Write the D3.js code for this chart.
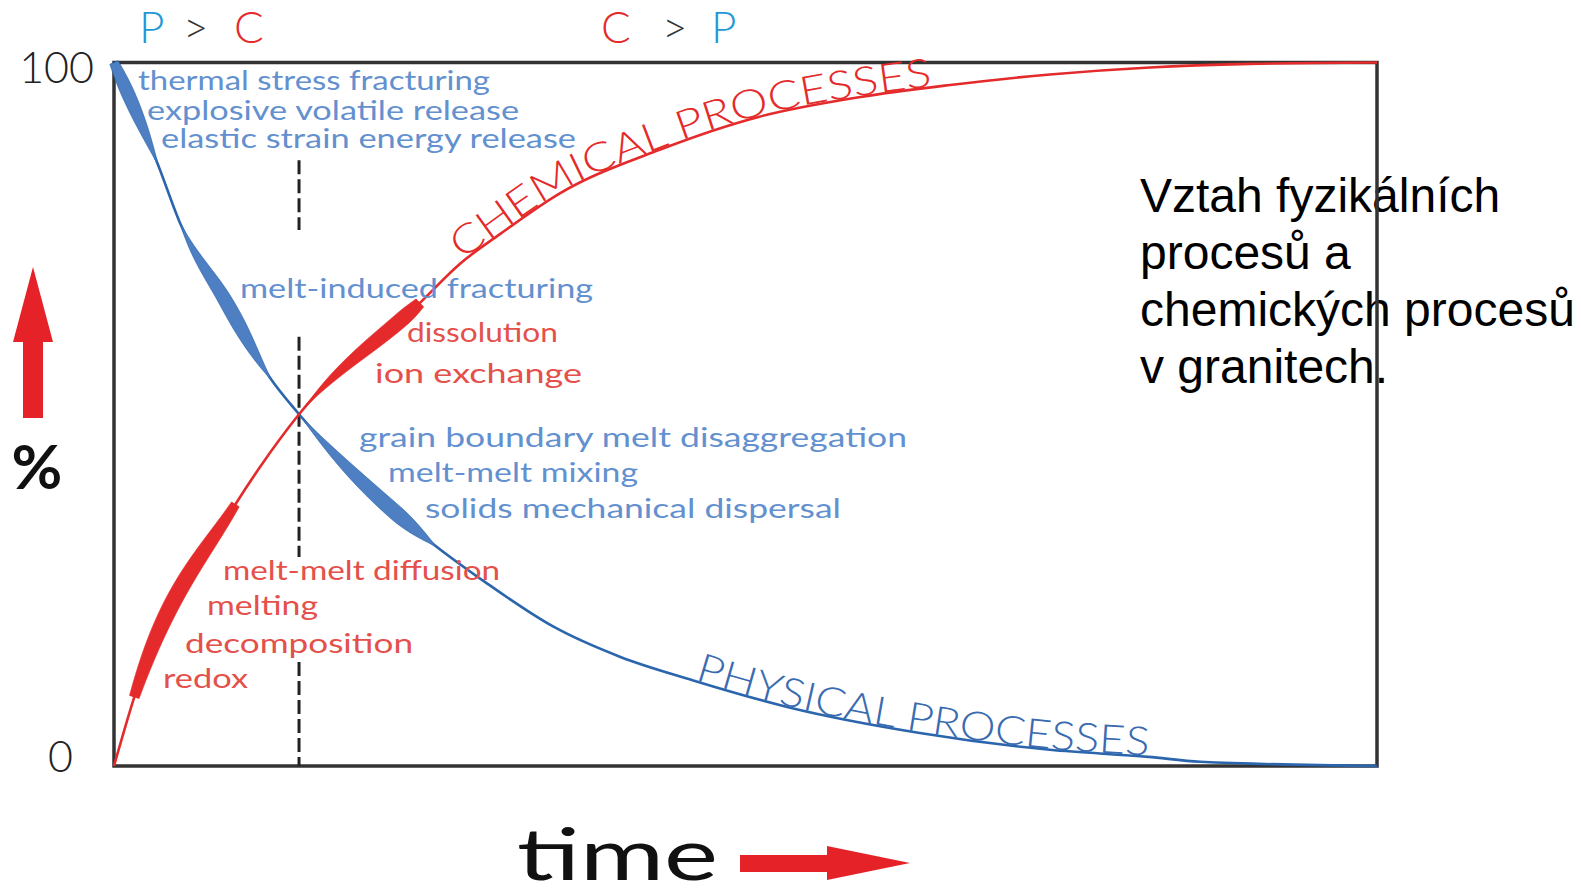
<!DOCTYPE html>
<html>
<head>
<meta charset="utf-8">
<script src="https://cdn.jsdelivr.net/npm/d3@7"></script>
<style>
  body { margin: 0; background: #fff; }
  svg { display: block; }
</style>
</head>
<body>
<script>
// share of physical vs chemical processes in granites over time
var physTime  = [0, 3.5, 5.2, 8.8, 12.35, 14.65, 24.2, 29.5, 34.8, 40.1, 45.8, 53.3, 63.8, 74.1, 81.9, 86.0, 100];
var physShare = [100, 85.4, 77.3, 66.2, 55.2, 50.0, 33.1, 26.0, 19.8, 15.5, 12.2, 8.4, 4.7, 2.3, 1.3, 0.6, 0];

var chemTime  = [0, 1.66, 9.58, 11.56, 14.65, 24.2, 27.4, 30.56, 35.3, 43.2, 51.1, 59.1, 66.2, 74.1, 82.0, 89.9, 100];
var chemShare = [0, 10.1, 37.1, 42.5, 50.0, 65.8, 71.4, 75.6, 81.4, 87.6, 92.3, 95.1, 96.8, 98.3, 99.3, 99.8, 100];

// time ranges of the thick process bands on each curve
var physBands = [[0, 3.5], [5.2, 12.5], [14.8, 25.5]];
var chemBands = [[1.6, 9.6], [15.0, 24.2]];

// process labels
var physLabels = ["thermal stress fracturing", "explosive volatile release", "elastic strain energy release",
                  "melt-induced fracturing", "grain boundary melt disaggregation", "melt-melt mixing",
                  "solids mechanical dispersal"];
var chemLabels = ["dissolution", "ion exchange", "melt-melt diffusion", "melting", "decomposition", "redox"];

var crossTime = 14.65;
var tickValues = [0, 100];
var noteLines = ["Vztah fyzikálních", "procesů a", "chemických procesů", "v granitech."];

var W = 1581, H = 895;
var blue = "#2b65ad", blueFill = "#4d7fc2", blueText = "#6390cf";
var red = "#e42a2a", redText = "#e4504a", cyan = "#1f98d6";
var gothic = "Lato, 'Noto Sans', sans-serif";

var svg = d3.select("body").append("svg").attr("width", W).attr("height", H);

var x = d3.scaleLinear().domain([0, 100]).range([114, 1377]);
var y = d3.scaleLinear().domain([0, 100]).range([766, 62.5]);

// note text on the right (frame is drawn over it)
svg.append("g").selectAll("text").data(noteLines).enter().append("text")
  .attr("x", 1140).attr("y", function(d, i) { return 212 + i * 57; })
  .attr("font-family", "'Liberation Sans', Arial, sans-serif")
  .attr("font-size", 48).attr("fill", "#000")
  .text(function(d) { return d; });

// frame
svg.append("rect")
  .attr("x", x(0)).attr("y", y(100))
  .attr("width", x(100) - x(0)).attr("height", y(0) - y(100))
  .attr("fill", "none").attr("stroke", "#333").attr("stroke-width", 3.5);

// tick labels 100 / 0
svg.append("g").selectAll("text").data(tickValues).enter().append("text")
  .attr("x", function(d) { return d === 100 ? 94 : 73; })
  .attr("y", function(d) { return d === 100 ? y(d) + 20 : y(d) + 6; })
  .attr("text-anchor", "end")
  .attr("font-family", gothic).attr("font-weight", 300)
  .attr("font-size", 43).attr("fill", "#222")
  .text(function(d) { return d; });

// dashed line at the crossing point
var dashParts = [[76.2, 86.1], [29.7, 61.0], [0, 14.8]];
svg.append("g").selectAll("line").data(dashParts).enter().append("line")
  .attr("x1", x(crossTime)).attr("x2", x(crossTime))
  .attr("y1", function(d) { return y(d[1]); })
  .attr("y2", function(d) { return y(d[0]); })
  .attr("stroke", "#222").attr("stroke-width", 3)
  .attr("stroke-dasharray", "14,5");

var line = d3.line()
  .x(function(d) { return x(d[0]); })
  .y(function(d) { return y(d[1]); })
  .curve(d3.curveMonotoneX);

var physPath = svg.append("path").attr("id", "physCurve")
  .attr("d", line(d3.zip(physTime, physShare)))
  .attr("fill", "none").attr("stroke", blue).attr("stroke-width", 2.6);
var chemPath = svg.append("path").attr("id", "chemCurve")
  .attr("d", line(d3.zip(chemTime, chemShare)))
  .attr("fill", "none").attr("stroke", red).attr("stroke-width", 2.6);

function sample(path) {
  var node = path.node(), L = node.getTotalLength(), pts = [];
  for (var l = 0; l <= L; l += 0.5) {
    var p = node.getPointAtLength(l);
    pts.push({ l: l, x: p.x, y: p.y });
  }
  return pts;
}
var bis = d3.bisector(function(d) { return d.x; }).left;
function atX(pts, px) { return Math.min(bis(pts, px), pts.length - 1); }

var physPts = sample(physPath), chemPts = sample(chemPath);

// lens shaped bands along the curve
function bandShape(pts, t0, t1, sh) {
  var i0 = atX(pts, x(t0)), i1 = atX(pts, x(t1)), a = [], b = [];
  for (var i = i0; i <= i1; i++) {
    var s = (i - i0) / Math.max(1, i1 - i0);
    var w = s < sh.p
      ? sh.w0 + (sh.wm - sh.w0) * Math.sin(Math.PI / 2 * s / sh.p)
      : sh.w1 + (sh.wm - sh.w1) * Math.cos(Math.PI / 2 * (s - sh.p) / (1 - sh.p));
    var p0 = pts[Math.max(0, i - 3)], p1 = pts[Math.min(pts.length - 1, i + 3)];
    var dx = p1.x - p0.x, dy = p1.y - p0.y, n = Math.hypot(dx, dy) || 1;
    var nx = -dy / n, ny = dx / n;
    a.push([pts[i].x + nx * w / 2, pts[i].y + ny * w / 2]);
    b.push([pts[i].x - nx * w / 2, pts[i].y - ny * w / 2]);
  }
  return a.concat(b.reverse());
}
var physBandShape = [{ w0: 9, wm: 13, w1: 0, p: 0.3 }, { w0: 0, wm: 14, w1: 0, p: 0.58 }, { w0: 0, wm: 15, w1: 0, p: 0.72 }];
var chemBandShape = [{ w0: 10, wm: 16, w1: 9, p: 0.5 }, { w0: 0, wm: 15, w1: 11, p: 0.85 }];
var poly = d3.line();

svg.append("g").selectAll("path").data(physBands).enter().append("path")
  .attr("d", function(d, i) { return poly(bandShape(physPts, d[0], d[1], physBandShape[i])) + "Z"; })
  .attr("fill", blueFill).attr("stroke", blue).attr("stroke-width", 0.8);
svg.append("g").selectAll("path").data(chemBands).enter().append("path")
  .attr("d", function(d, i) { return poly(bandShape(chemPts, d[0], d[1], chemBandShape[i])) + "Z"; })
  .attr("fill", red).attr("stroke", red).attr("stroke-width", 0.8);

// curve names on the curves
function curveLabel(id, pts, txt, t0, t1, col) {
  var l0 = pts[atX(pts, x(t0))].l, l1 = pts[atX(pts, x(t1))].l;
  svg.append("text")
    .attr("font-family", gothic).attr("font-weight", 300)
    .attr("font-size", 40).attr("fill", col).attr("dy", -1)
    .append("textPath").attr("href", "#" + id)
    .attr("startOffset", l0)
    .attr("textLength", l1 - l0).attr("lengthAdjust", "spacingAndGlyphs")
    .text(txt);
}
curveLabel("chemCurve", chemPts, "CHEMICAL PROCESSES", 27.6, 64.8, red);
curveLabel("physCurve", physPts, "PHYSICAL PROCESSES", 45.9, 81.9, "#3a6bb0");

// process labels: [left x, baseline y, width]
var physLabelPos = [[138, 90, 352], [147, 120, 372], [161, 148, 415], [240, 298, 353],
                    [359, 447, 548], [388, 482, 250], [425, 518, 416]];
var chemLabelPos = [[407, 342, 151], [375, 383, 207], [223, 580, 277], [207, 615, 111],
                    [185, 653, 228], [163, 688, 85]];

function labels(names, pos, col) {
  svg.append("g").selectAll("text").data(names).enter().append("text")
    .attr("x", function(d, i) { return pos[i][0]; })
    .attr("y", function(d, i) { return pos[i][1]; })
    .attr("textLength", function(d, i) { return pos[i][2]; })
    .attr("lengthAdjust", "spacingAndGlyphs")
    .attr("font-family", gothic).attr("font-size", 27).attr("fill", col)
    .text(function(d) { return d; });
}
labels(physLabels, physLabelPos, blueText);
labels(chemLabels, chemLabelPos, redText);

// P > C   and   C > P  headers, each glyph at its own x
function header(parts) {
  var t = svg.append("text").attr("y", 43)
    .attr("font-family", gothic).attr("font-weight", 300).attr("font-size", 44);
  parts.forEach(function(p) {
    t.append("tspan").attr("x", p[2]).attr("fill", p[1]).text(p[0]);
  });
}
header([["P", cyan, 139], [">", "#333", 183], ["C", red, 234]]);
header([["C", red, 601], [">", "#333", 662], ["P", cyan, 711]]);

// axis titles with arrows
svg.append("path")
  .attr("d", "M33,267 L53,342 L43,342 L43,418 L23,418 L23,342 L13,342 Z")
  .attr("fill", "#e42228");
svg.append("text").attr("x", 37).attr("y", 489).attr("text-anchor", "middle")
  .attr("font-family", gothic).attr("font-weight", 700).attr("font-size", 62).attr("fill", "#111")
  .text("%");

svg.append("text").attr("x", 517).attr("y", 880)
  .attr("textLength", 201).attr("lengthAdjust", "spacingAndGlyphs")
  .attr("font-family", gothic).attr("font-size", 72).attr("fill", "#111")
  .text("time");
svg.append("path")
  .attr("d", "M740,855 L827,855 L827,846 L910,863 L827,880 L827,872 L740,872 Z")
  .attr("fill", "#e42228");
</script>
</body>
</html>
